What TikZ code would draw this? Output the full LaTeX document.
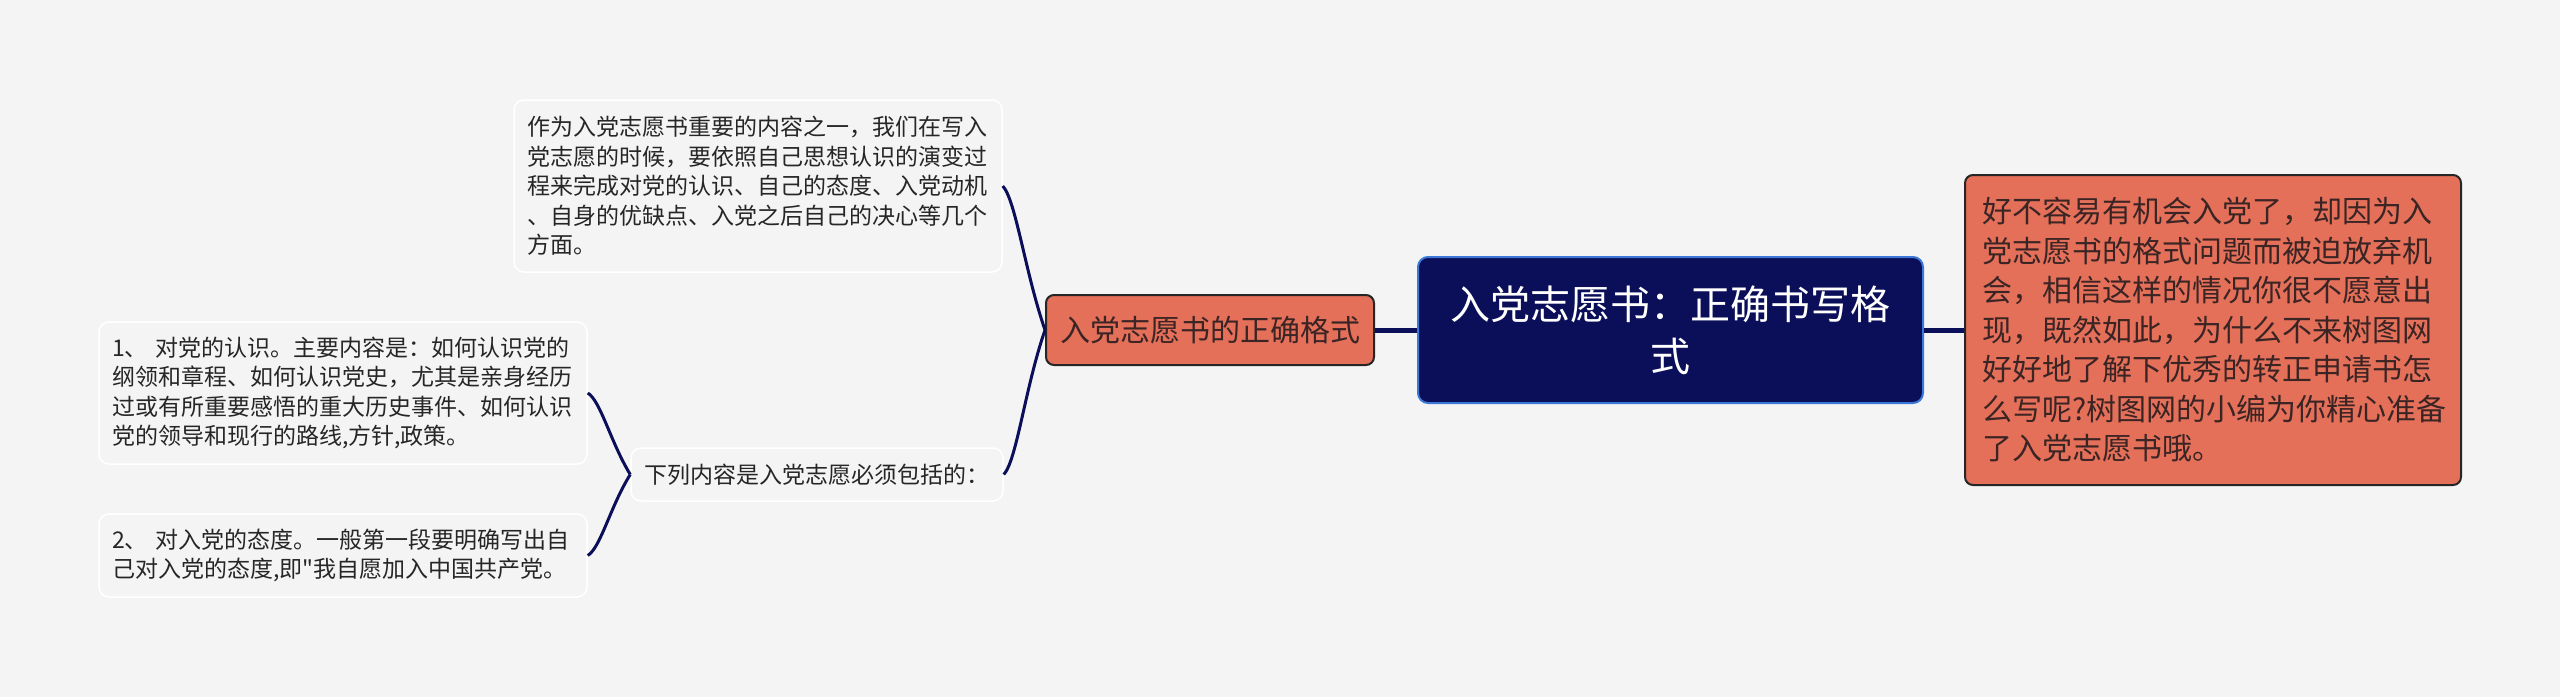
\documentclass[tikz,border=0pt]{standalone}
\usepackage{fontspec}
\setmainfont{Noto Sans CJK SC}[Ligatures=TeXOff]
\usetikzlibrary{calc}
\definecolor{bg}{HTML}{F4F4F4}
\definecolor{navy}{HTML}{0B0E58}
\definecolor{coral}{HTML}{E4705A}
\definecolor{edgeblue}{HTML}{3C78D8}
\definecolor{txt}{HTML}{262626}
\definecolor{coraltxt}{HTML}{3A2424}
\begin{document}
\begin{tikzpicture}[x=1pt,y=-1pt,
  lightbox/.style={draw=white, line width=1.5pt, fill=bg, rounded corners=10pt, inner sep=0pt, align=left, text=txt, font=\fontsize{23}{29.5}\selectfont},
  coralbox/.style={draw=black!85, line width=2pt, fill=coral, rounded corners=8pt, inner sep=0pt, text=coraltxt},
  rootbox/.style={draw=edgeblue, line width=2pt, fill=navy, rounded corners=10pt, inner sep=0pt, text=white, align=center, font=\fontsize{40}{52}\selectfont},
  straightlink/.style={draw=navy, line width=5pt},
  curvelink/.style={draw=navy, line width=3pt}
]
\fill[bg] (0,0) rectangle (2560,697);
\useasboundingbox (0,0) rectangle (2560,697);

\node[lightbox, minimum width=488pt, minimum height=172pt, text width=462pt] (intro) at (758,186)
  {作为入党志愿书重要的内容之一，我们在写入\\党志愿的时候，要依照自己思想认识的演变过\\程来完成对党的认识、自己的态度、入党动机\\、自身的优缺点、入党之后自己的决心等几个\\方面。};
\node[lightbox, minimum width=488pt, minimum height=142pt, text width=462pt] (item1) at (343,393)
  {1、 对党的认识。主要内容是：如何认识党的\\纲领和章程、如何认识党史，尤其是亲身经历\\过或有所重要感悟的重大历史事件、如何认识\\党的领导和现行的路线,方针,政策。};
\node[lightbox, minimum width=488pt, minimum height=83pt, text width=462pt] (item2) at (343,555.5)
  {2、 对入党的态度。一般第一段要明确写出自\\己对入党的态度,即"我自愿加入中国共产党。};
\node[lightbox, minimum width=372pt, minimum height=53pt] (list) at (817,474.5)
  {下列内容是入党志愿必须包括的：};
\node[coralbox, minimum width=328pt, minimum height=70pt, font=\fontsize{30}{38}\selectfont] (mid) at (1210,330)
  {入党志愿书的正确格式};
\node[rootbox, minimum width=505pt, minimum height=146pt] (root) at (1670.5,330)
  {入党志愿书：正确书写格\\式};
\node[coralbox, minimum width=496pt, minimum height=310pt, text width=462pt, align=left, font=\fontsize{30}{39.5}\selectfont] (desc) at (2213,330)
  {好不容易有机会入党了，却因为入\\党志愿书的格式问题而被迫放弃机\\会，相信这样的情况你很不愿意出\\现，既然如此，为什么不来树图网\\好好地了解下优秀的转正申请书怎\\么写呢?树图网的小编为你精心准备\\了入党志愿书哦。};

\draw[straightlink] (mid.east) -- (root.west);
\draw[straightlink] (root.east) -- (desc.west);
\draw[curvelink] (intro.east) .. controls ($(intro.east)+(13,14)$) and ($(mid.west)+(-20,-58)$) .. (mid.west);
\draw[curvelink] (list.east) .. controls ($(list.east)+(13,-14)$) and ($(mid.west)+(-20,58)$) .. (mid.west);
\draw[curvelink] (item1.east) .. controls ($(item1.east)+(13,8)$) and ($(list.west)+(-20,-33)$) .. (list.west);
\draw[curvelink] (item2.east) .. controls ($(item2.east)+(13,-8)$) and ($(list.west)+(-20,32)$) .. (list.west);
\end{tikzpicture}
\end{document}
